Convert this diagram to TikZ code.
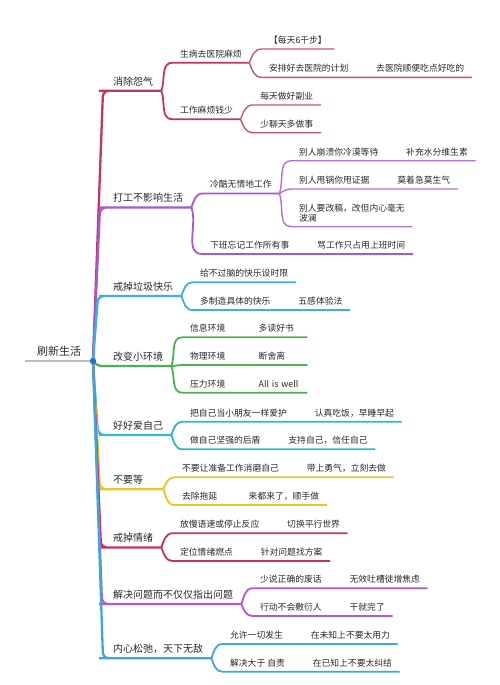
\documentclass[tikz,border=0pt]{standalone}
\usepackage{fontspec}
\setmainfont{Noto Sans CJK SC}
\usetikzlibrary{positioning,calc}
\definecolor{inkgray}{RGB}{40,40,40}
\definecolor{rootgray}{RGB}{188,188,188}
\definecolor{hubblue}{RGB}{30,110,220}
\definecolor{rosered}{RGB}{194,52,102}
\definecolor{lilac}{RGB}{168,85,214}
\definecolor{skyblue}{RGB}{60,176,222}
\definecolor{leafgreen}{RGB}{76,178,80}
\definecolor{tealcyan}{RGB}{46,186,202}
\definecolor{sunyellow}{RGB}{236,196,40}
\definecolor{berry}{RGB}{196,50,96}
\definecolor{orchid}{RGB}{178,88,214}
\definecolor{oceanblue}{RGB}{58,170,218}

\begin{document}
\begin{tikzpicture}[
    x=1pt, y=-1pt,
    every node/.style={text=inkgray, anchor=south west, inner ysep=4pt, text height=8pt, text depth=1.5pt},
    rootnode/.style={font=\fontsize{11}{13}\selectfont, inner xsep=12pt},
    topic/.style={font=\fontsize{10}{12}\selectfont, inner xsep=8pt},
    subtopic/.style={font=\fontsize{8.8}{10.5}\selectfont, inner xsep=7.5pt},
    trunk/.style={line width=2.3pt, rounded corners=6pt},
    twig/.style={line width=1.8pt},
    leafline/.style={line width=1.4pt},
    goup/.style={out=70, in=180},
    godown/.style={out=-70, in=180}
]
\useasboundingbox (0,0) rectangle (500,685);

% Root
\coordinate (hub) at (93,361);
\node[rootnode] (root) at (25,361) {刷新生活};

% Main topics
\node[topic] (b1) at (105,90.7) {消除怨气};
\node[topic] (b2) at (105,207.5) {打工不影响生活};
\node[topic] (b3) at (105,296) {戒掉垃圾快乐};
\node[topic] (b4) at (105,366) {改变小环境};
\node[topic] (b5) at (105,435) {好好爱自己};
\node[topic, text width=42pt] (b6) at (105,489.3) {不要等};
\node[topic] (b7) at (105,547.5) {戒掉情绪};
\node[topic] (b8) at (105,604) {解决问题而不仅仅指出问题};
\node[topic] (b9) at (105,658.3) {内心松弛，天下无敌};

% Branch 1
\node[subtopic] (b1a) at ($(b1.south east)+(11,-28)$) {生病去医院麻烦};
\node[subtopic] (b1b) at ($(b1.south east)+(11,28.6)$) {工作麻烦钱少};
\node[subtopic] (b1a1) at ($(b1a.south east)+(12,-13.7)$) {【每天6千步】};
\node[subtopic] (b1a2) at ($(b1a.south east)+(12,14.6)$) {安排好去医院的计划};
\node[subtopic, right=12.5pt of b1a2] (b1a2x) {去医院顺便吃点好吃的};
\node[subtopic] (b1b1) at ($(b1b.south east)+(12,-14.3)$) {每天做好副业};
\node[subtopic] (b1b2) at ($(b1b.south east)+(12,13.4)$) {少聊天多做事};

% Branch 2
\node[subtopic] (b2a) at ($(b2.south east)+(11,-14)$) {冷酷无情地工作};
\node[subtopic] (b2b) at ($(b2.south east)+(11,46.5)$) {下班忘记工作所有事};
\node[subtopic, right=12.5pt of b2b] (b2bx) {骂工作只占用上班时间};
\node[subtopic] (b2a1) at ($(b2a.south east)+(12,-32.8)$) {别人崩溃你冷漠等待};
\node[subtopic, right=12.5pt of b2a1] (b2a1x) {补充水分维生素};
\node[subtopic] (b2a2) at ($(b2a.south east)+(12,-4.5)$) {别人甩锅你甩证据};
\node[subtopic, right=12.5pt of b2a2] (b2a2x) {莫着急莫生气};
\node[subtopic, align=left, text height=, text depth=] (b2a3) at ($(b2a.south east)+(12,33.2)$) {别人要改稿，改但内心毫无\\波澜};

% Branch 3
\node[subtopic] (b3a) at ($(b3.south east)+(11,-13.7)$) {给不过脑的快乐设时限};
\node[subtopic] (b3b) at ($(b3.south east)+(11,14)$) {多制造具体的快乐};
\node[subtopic, right=12.5pt of b3b] (b3bx) {五感体验法};

% Branch 4
\node[subtopic] (b4a) at ($(b4.south east)+(11,-28.7)$) {信息环境};
\node[subtopic, text width=41pt, right=18pt of b4a] (b4ax) {多读好书};
\node[subtopic] (b4b) at ($(b4.south east)+(11,-1)$) {物理环境};
\node[subtopic, text width=41pt, right=18pt of b4b] (b4bx) {断舍离};
\node[subtopic] (b4c) at ($(b4.south east)+(11,26.7)$) {压力环境};
\node[subtopic, text width=41pt, right=18pt of b4c] (b4cx) {All is well};

% Branch 5
\node[subtopic] (b5a) at ($(b5.south east)+(11,-13.3)$) {把自己当小朋友一样爱护};
\node[subtopic, right=12.5pt of b5a] (b5ax) {认真吃饭，早睡早起};
\node[subtopic] (b5b) at ($(b5.south east)+(11,14.3)$) {做自己坚强的后盾};
\node[subtopic, right=12.5pt of b5b] (b5bx) {支持自己，信任自己};

% Branch 6
\node[subtopic] (b6a) at ($(b6.south east)+(11,-12)$) {不要让准备工作消磨自己};
\node[subtopic, right=12.5pt of b6a] (b6ax) {带上勇气，立刻去做};
\node[subtopic] (b6b) at ($(b6.south east)+(11,15.7)$) {去除拖延};
\node[subtopic, right=16pt of b6b] (b6bx) {来都来了，顺手做};

% Branch 7
\node[subtopic] (b7a) at ($(b7.south east)+(11,-14.2)$) {放慢语速或停止反应};
\node[subtopic, right=12.5pt of b7a] (b7ax) {切换平行世界};
\node[subtopic] (b7b) at ($(b7.south east)+(11,13.5)$) {定位情绪燃点};
\node[subtopic, right=12.5pt of b7b] (b7bx) {针对问题找方案};

% Branch 8
\node[subtopic] (b8a) at ($(b8.south east)+(11,-15.7)$) {少说正确的废话};
\node[subtopic, right=12.5pt of b8a] (b8ax) {无效吐槽徒增焦虑};
\node[subtopic] (b8b) at ($(b8.south east)+(11,12)$) {行动不会敷衍人};
\node[subtopic, right=12.5pt of b8b] (b8bx) {干就完了};

% Branch 9
\node[subtopic] (b9a) at ($(b9.south east)+(11,-14.3)$) {允许一切发生};
\node[subtopic, right=12.5pt of b9a] (b9ax) {在未知上不要太用力};
\node[subtopic] (b9b) at ($(b9.south east)+(11,13.4)$) {解决大于 自责};
\node[subtopic, right=12.5pt of b9b] (b9bx) {在已知上不要太纠结};

% Trunks from the hub
\draw[trunk, rosered] (hub) -- (103,90.7) -- (b1.south west) -- (b1.south east);
\draw[trunk, lilac] (hub) -- (100,207.5) -- (b2.south west) -- (b2.south east);
\draw[trunk, skyblue] (hub) -- (98,296) -- (b3.south west) -- (b3.south east);
\draw[trunk, leafgreen] (hub) -- (96,366) -- (b4.south west) -- (b4.south east);
\draw[trunk, tealcyan] (hub) -- (98,435) -- (b5.south west) -- (b5.south east);
\draw[trunk, sunyellow] (hub) -- (100,489.3) -- (b6.south west) -- (b6.south east);
\draw[trunk, berry] (hub) -- (101,547.5) -- (b7.south west) -- (b7.south east);
\draw[trunk, orchid] (hub) -- (102,604) -- (b8.south west) -- (b8.south east);
\draw[trunk, oceanblue] (hub) -- (103,658.3) -- (b9.south west) -- (b9.south east);

% Branch 1 lines
\draw[twig, rosered] (b1.south east) to[goup] (b1a.south west) -- (b1a.south east);
\draw[twig, rosered] (b1.south east) to[godown] (b1b.south west) -- (b1b.south east);
\draw[leafline, rosered!85] (b1a.south east) to[goup] (b1a1.south west) -- (b1a1.south east);
\draw[leafline, rosered!85] (b1a.south east) to[godown] (b1a2.south west) -- (b1a2.south east) -- (b1a2x.south west) -- (b1a2x.south east);
\draw[leafline, rosered!85] (b1b.south east) to[goup] (b1b1.south west) -- (b1b1.south east);
\draw[leafline, rosered!85] (b1b.south east) to[godown] (b1b2.south west) -- (b1b2.south east);

% Branch 2 lines
\draw[twig, lilac] (b2.south east) to[goup] (b2a.south west) -- (b2a.south east);
\draw[twig, lilac] (b2.south east) to[godown] (b2b.south west) -- (b2b.south east) -- (b2bx.south west) -- (b2bx.south east);
\draw[leafline, lilac!85] (b2a.south east) to[goup] (b2a1.south west) -- (b2a1.south east) -- (b2a1x.south west) -- (b2a1x.south east);
\draw[leafline, lilac!85] (b2a.south east) to[out=30, in=180] (b2a2.south west) -- (b2a2.south east) -- (b2a2x.south west) -- (b2a2x.south east);
\draw[leafline, lilac!85] (b2a.south east) to[godown] (b2a3.south west) -- (b2a3.south east);

% Branch 3 lines
\draw[twig, skyblue] (b3.south east) to[goup] (b3a.south west) -- (b3a.south east);
\draw[twig, skyblue] (b3.south east) to[godown] (b3b.south west) -- (b3b.south east) -- (b3bx.south west) -- (b3bx.south east);

% Branch 4 lines
\draw[twig, leafgreen] (b4.south east) to[goup] (b4a.south west) -- (b4a.south east) -- (b4ax.south west) -- (b4ax.south east);
\draw[twig, leafgreen] (b4.south east) to[out=0, in=180] (b4b.south west) -- (b4b.south east) -- (b4bx.south west) -- (b4bx.south east);
\draw[twig, leafgreen] (b4.south east) to[godown] (b4c.south west) -- (b4c.south east) -- (b4cx.south west) -- (b4cx.south east);

% Branch 5 lines
\draw[twig, tealcyan] (b5.south east) to[goup] (b5a.south west) -- (b5a.south east) -- (b5ax.south west) -- (b5ax.south east);
\draw[twig, tealcyan] (b5.south east) to[godown] (b5b.south west) -- (b5b.south east) -- (b5bx.south west) -- (b5bx.south east);

% Branch 6 lines
\draw[twig, sunyellow] (b6.south east) to[goup] (b6a.south west) -- (b6a.south east) -- (b6ax.south west) -- (b6ax.south east);
\draw[twig, sunyellow] (b6.south east) to[godown] (b6b.south west) -- (b6b.south east) -- (b6bx.south west) -- (b6bx.south east);

% Branch 7 lines
\draw[twig, berry] (b7.south east) to[goup] (b7a.south west) -- (b7a.south east) -- (b7ax.south west) -- (b7ax.south east);
\draw[twig, berry] (b7.south east) to[godown] (b7b.south west) -- (b7b.south east) -- (b7bx.south west) -- (b7bx.south east);

% Branch 8 lines
\draw[twig, orchid] (b8.south east) to[goup] (b8a.south west) -- (b8a.south east) -- (b8ax.south west) -- (b8ax.south east);
\draw[twig, orchid] (b8.south east) to[godown] (b8b.south west) -- (b8b.south east) -- (b8bx.south west) -- (b8bx.south east);

% Branch 9 lines
\draw[twig, oceanblue] (b9.south east) to[goup] (b9a.south west) -- (b9a.south east) -- (b9ax.south west) -- (b9ax.south east);
\draw[twig, oceanblue] (b9.south east) to[godown] (b9b.south west) -- (b9b.south east) -- (b9bx.south west) -- (b9bx.south east);

% Root line and hub
\draw[rootgray, line width=2pt] (root.south west) -- (hub);
\fill[hubblue] (hub) circle (3.2);
\end{tikzpicture}
\end{document}
